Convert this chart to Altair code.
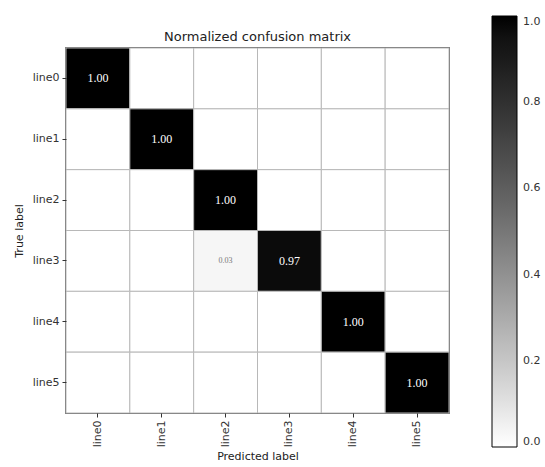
import altair as alt
import pandas as pd

labels = ["line0", "line1", "line2", "line3", "line4", "line5"]
matrix = [
    [1.00, 0.00, 0.00, 0.00, 0.00, 0.00],
    [0.00, 1.00, 0.00, 0.00, 0.00, 0.00],
    [0.00, 0.00, 1.00, 0.00, 0.00, 0.00],
    [0.00, 0.00, 0.03, 0.97, 0.00, 0.00],
    [0.00, 0.00, 0.00, 0.00, 1.00, 0.00],
    [0.00, 0.00, 0.00, 0.00, 0.00, 1.00],
]
legend_ticks = [0.0, 0.2, 0.4, 0.6, 0.8, 1.0]

rows = []
for i, t in enumerate(labels):
    for j, p in enumerate(labels):
        rows.append({"true": t, "pred": p, "v": matrix[i][j]})
df = pd.DataFrame(rows)

x = alt.X("pred:N", sort=labels, title="Predicted label",
          axis=alt.Axis(labelAngle=-90, labelFont="DejaVu Sans", labelFontSize=11,
                        labelColor="#333", titleFont="DejaVu Sans", titleFontSize=11,
                        titleFontWeight="normal", titleColor="#222", tickColor="#333",
                        tickSize=4, domain=False, labelPadding=3, titlePadding=4))
y = alt.Y("true:N", sort=labels, title="True label",
          axis=alt.Axis(labelFont="DejaVu Sans", labelFontSize=11, labelColor="#333",
                        titleFont="DejaVu Sans", titleFontSize=11, titleFontWeight="normal",
                        titleColor="#222", tickColor="#333", tickSize=4, domain=False,
                        labelPadding=3, titlePadding=8))

rect = alt.Chart(df).mark_rect(stroke="#b8b8b8", strokeWidth=1).encode(
    x=x, y=y,
    color=alt.Color("v:Q", scale=alt.Scale(domain=[0, 1], range=["#ffffff", "#000000"]),
                    legend=alt.Legend(title=None, orient="none", legendX=426, legendY=-32,
                                      gradientLength=431, gradientThickness=25,
                                      gradientStrokeColor="#000", gradientStrokeWidth=1,
                                      values=legend_ticks, format=".1f",
                                      labelFont="DejaVu Sans", labelFontSize=11,
                                      labelColor="#333", labelOffset=6, direction="vertical")),
)

text = alt.Chart(df).transform_filter(alt.datum.v > 0).mark_text(
    font="Liberation Serif").encode(
    x=alt.X("pred:N", sort=labels),
    y=alt.Y("true:N", sort=labels),
    text=alt.Text("v:Q", format=".2f"),
    color=alt.condition(alt.datum.v > 0.5, alt.value("#ffffff"), alt.value("#777777")),
    size=alt.condition(alt.datum.v > 0.5, alt.value(12), alt.value(8)),
)

chart = (rect + text).properties(
    width=383, height=365,
    title=alt.TitleParams("Normalized confusion matrix", font="DejaVu Sans", fontSize=13,
                          fontWeight="normal", color="#222", offset=4, dy=32),
    autosize=alt.AutoSizeParams(type="none"),
    padding={"left": 66, "top": 48, "right": 96, "bottom": 54},
).configure_view(stroke="#222", strokeWidth=1.5)

chart.save("out.html", embed_options={"renderer": "svg", "actions": False})
